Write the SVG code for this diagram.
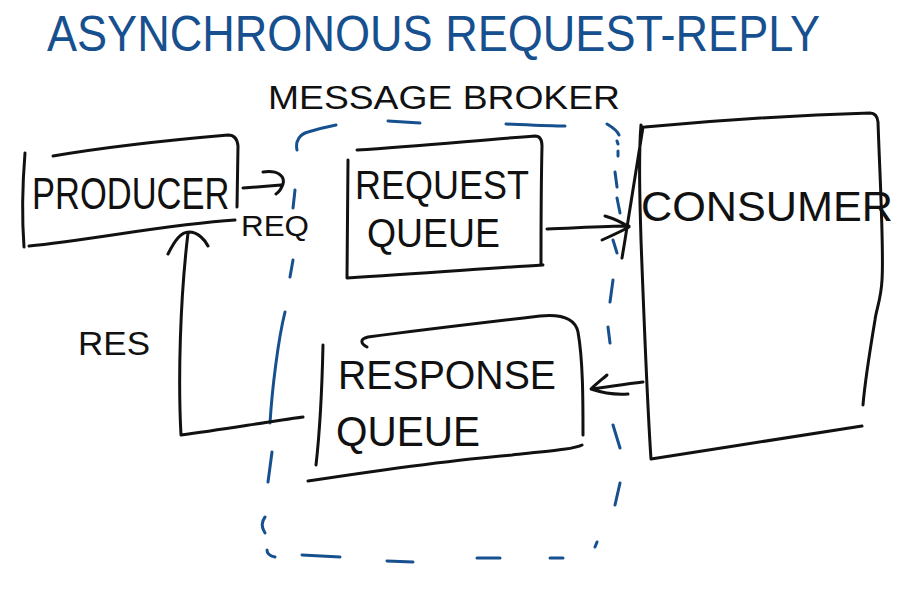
<svg xmlns="http://www.w3.org/2000/svg" width="904" height="597" viewBox="0 0 904 597">
<style>
.ink{fill:none;stroke:#111;stroke-width:3;stroke-linecap:round;stroke-linejoin:round}
.blue{fill:none;stroke:#17508f;stroke-width:3;stroke-linecap:round;stroke-linejoin:round}
.t{font-family:"Liberation Sans","DejaVu Sans",sans-serif;fill:#111}
.title{font-family:"Liberation Sans","DejaVu Sans",sans-serif;fill:#17508f}
</style>
<rect width="904" height="597" fill="#fff"/>
<text class="title" x="47" y="51" font-size="50" textLength="773" lengthAdjust="spacingAndGlyphs">ASYNCHRONOUS REQUEST-REPLY</text>

<g id="broker">
<path class="blue" d="M297,150 C295,141 300,134 308,132 C318,129 326,127 336,125 M388,121 L420,123 M506,124 C530,125 550,126 565,126 M607,124 C612,127 617,130 619,135 M617,141 L618,144 M618,151 L618,156 M615,172 L617,187 M617,198 L620,213 M613,240 L617,253 M613,280 L610,302 M608,327 L610,343 M613,425 L620,448 M620,483 L615,505 M597,542 L595,547 M563,558 L550,558 M500,558 L477,558 M413,562 L387,561 M340,557 L302,555 M275,557 C270,556 267,554 267,550 M265,533 C261,527 262,521 265,517 M268,482 L272,452 M270,423 C272,390 278,340 285,312 M290,277 L293,260 M293,208 L295,190"/>
<text class="t" x="268" y="109" font-size="34" textLength="352" lengthAdjust="spacingAndGlyphs">MESSAGE BROKER</text>
</g>

<g id="producer">
<path class="ink" d="M25,153 C22,190 22,220 24,247 M53,156 C100,148 170,140 228,135 Q237,135 238,146 L237,207 M29,246 C90,240 170,224 235,220"/>
<text class="t" transform="translate(32,209) scale(1,1.3)" x="0" y="0" font-size="34.5">PRODUCER</text>
</g>

<g id="request-queue">
<path class="ink" d="M348,160 L347,278 M357,150 C420,146 480,140 535,136 Q542,136 542,146 C541,190 541,230 541,264 M347,278 C420,274 490,268 543,265"/>
<text class="t" x="355" y="199" font-size="40" textLength="174" lengthAdjust="spacingAndGlyphs">REQUEST</text>
<text class="t" x="367" y="247" font-size="40" textLength="133" lengthAdjust="spacingAndGlyphs">QUEUE</text>
</g>

<g id="consumer">
<path class="ink" d="M641,125 C638,160 640,200 641,240 C644,320 647,400 651,459 M643,127 C638,160 630,210 622,258 M645,127 C720,120 800,115 870,113 Q877,113 878,122 C880,180 884,250 882,280 C881,300 876,310 875,320 C870,350 865,380 863,405 M651,459 C720,448 800,436 862,426"/>
<text class="t" x="641" y="221" font-size="42" textLength="252" lengthAdjust="spacingAndGlyphs">CONSUMER</text>
</g>

<g id="response-queue">
<path class="ink" d="M323,345 C322,390 320,430 316,465 M367,347 C360,343 360,339 368,337 C420,330 480,323 540,316 C560,314 575,318 578,332 C583,360 583,400 583,435 M308,481 C380,470 450,460 512,455 C550,451 575,449 582,445"/>
<text class="t" x="338" y="389" font-size="40" textLength="218" lengthAdjust="spacingAndGlyphs">RESPONSE</text>
<text class="t" x="336" y="446" font-size="42" textLength="144" lengthAdjust="spacingAndGlyphs">QUEUE</text>
</g>

<g id="connectors">
<path class="ink" d="M243,188 C255,187 268,186 281,185 M263,172 C278,170 285,176 283,184 C281,190 279,192 276,194"/>
<text class="t" x="241" y="236" font-size="29" textLength="68" lengthAdjust="spacingAndGlyphs">REQ</text>
<path class="ink" d="M547,229 C575,228 605,226 629,226 M605,216 C615,219 623,223 629,227 C620,232 611,236 602,240"/>
<path class="ink" d="M643,382 C625,384 608,387 592,389 M607,375 C600,381 595,385 591,389 C603,393 615,395 628,394"/>
<path class="ink" d="M303,417 C260,423 220,430 181,435 C178,380 180,300 188,233 M168,254 C175,240 181,232 189,232 C198,232 205,240 208,246"/>
<text class="t" x="78" y="355" font-size="34" textLength="72" lengthAdjust="spacingAndGlyphs">RES</text>
</g>
</svg>
